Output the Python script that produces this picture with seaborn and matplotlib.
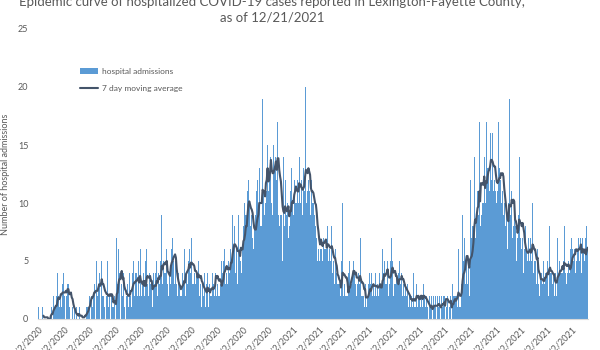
import numpy as np
import pandas as pd
import matplotlib
matplotlib.use("Agg")
import matplotlib.pyplot as plt
import seaborn as sns
from matplotlib.patches import Patch
from matplotlib.lines import Line2D

# ---------------- data ----------------
start_date = "2020-03-02"

admissions = [
    1, 0, 0, 0, 0, 1, 0, 0, 0, 0,
    0, 0, 0, 0, 0, 2, 1, 0, 2, 1,
    1, 1, 2, 4, 2, 1, 2, 3, 1, 3,
    4, 2, 1, 3, 2, 3, 3, 1, 2, 2,
    0, 1, 0, 1, 0, 0, 1, 0, 0, 1,
    0, 0, 0, 0, 0, 0, 2, 0, 1, 1,
    1, 2, 1, 5, 2, 1, 2, 3, 2, 2,
    5, 2, 3, 4, 2, 3, 5, 2, 2, 1,
    2, 1, 2, 5, 1, 2, 2, 1, 2, 1,
    1, 2, 1, 1, 7, 3, 6, 4, 2, 4,
    3, 2, 4, 1, 2, 1, 2, 3, 1, 4,
    2, 4, 1, 4, 5, 2, 4, 3, 4, 2,
    5, 2, 6, 1, 2, 3, 4, 2, 5, 3,
    6, 3, 2, 4, 3, 2, 3, 1, 4, 3,
    4, 3, 5, 2, 4, 3, 5, 4, 9, 3,
    5, 4, 4, 4, 6, 3, 2, 4, 3, 10,
    6, 7, 5, 3, 5, 1, 3, 2, 4, 3,
    2, 3, 2, 4, 3, 6, 2, 7, 4, 3,
    5, 6, 4, 5, 7, 3, 3, 4, 3, 4,
    4, 4, 5, 2, 3, 4, 1, 3, 2, 4,
    1, 2, 3, 4, 1, 3, 2, 3, 2, 4,
    3, 2, 4, 8, 2, 3, 2, 2, 3, 3,
    5, 4, 5, 6, 3, 5, 4, 3, 5, 4,
    6, 7, 5, 9, 6, 8, 4, 5, 6, 3,
    9, 6, 5, 9, 4, 6, 8, 10, 9, 10,
    9, 11, 12, 10, 8, 7, 9, 7, 6, 8,
    9, 8, 11, 12, 9, 13, 8, 9, 8, 19,
    11, 9, 10, 16, 11, 15, 11, 12, 14, 17,
    10, 9, 15, 13, 14, 17, 12, 17, 9, 8,
    9, 11, 9, 5, 14, 8, 12, 8, 9, 10,
    7, 8, 11, 12, 13, 10, 9, 12, 10, 14,
    10, 12, 10, 14, 10, 11, 12, 9, 13, 11,
    20, 14, 10, 11, 12, 11, 9, 12, 12, 10,
    10, 9, 8, 8, 7, 5, 6, 5, 6, 11,
    6, 5, 7, 6, 6, 7, 6, 8, 5, 6,
    5, 6, 8, 4, 5, 3, 6, 2, 4, 3,
    3, 3, 2, 2, 5, 10, 2, 3, 2, 1,
    2, 2, 4, 5, 3, 5, 3, 4, 5, 4,
    3, 4, 2, 3, 4, 3, 7, 1, 2, 2,
    2, 1, 3, 2, 1, 2, 3, 4, 3, 2,
    4, 2, 3, 2, 4, 3, 2, 3, 2, 4,
    3, 2, 3, 6, 4, 5, 3, 4, 3, 5,
    2, 3, 5, 4, 7, 5, 2, 3, 3, 2,
    4, 3, 4, 5, 3, 3, 4, 2, 3, 2,
    3, 2, 2, 3, 1, 2, 1, 1, 2, 1,
    4, 1, 1, 2, 3, 1, 2, 2, 1, 3,
    2, 1, 3, 2, 1, 1, 2, 1, 0, 2,
    1, 0, 2, 0, 2, 1, 2, 1, 0, 2,
    1, 2, 0, 1, 2, 1, 2, 2, 0, 4,
    1, 2, 0, 1, 2, 1, 0, 3, 2, 2,
    2, 1, 2, 1, 6, 1, 1, 2, 3, 9,
    5, 7, 3, 6, 5, 3, 5, 2, 12, 4,
    7, 8, 8, 14, 7, 10, 9, 11, 9, 17,
    8, 18, 9, 10, 10, 14, 10, 12, 17, 13,
    13, 11, 16, 14, 12, 16, 11, 12, 11, 11,
    10, 11, 17, 13, 12, 14, 10, 11, 9, 10,
    8, 7, 9, 6, 10, 19, 9, 8, 11, 7,
    8, 9, 8, 8, 5, 7, 9, 14, 7, 8,
    6, 7, 4, 6, 8, 4, 6, 5, 7, 5,
    7, 6, 5, 10, 4, 5, 5, 4, 3, 6,
    3, 2, 4, 2, 4, 3, 5, 3, 4, 4,
    4, 5, 2, 8, 4, 2, 4, 3, 4, 2,
    4, 3, 2, 7, 4, 5, 4, 4, 4, 4,
    5, 8, 4, 4, 3, 4, 5, 4, 6, 5,
    7, 6, 5, 6, 4, 9, 5, 6, 7, 5,
    7, 6, 4, 7, 6, 5, 7, 4, 8, 6,
]

month_labels = [
    "3/2/2020", "4/2/2020", "5/2/2020", "6/2/2020", "7/2/2020", "8/2/2020",
    "9/2/2020", "10/2/2020", "11/2/2020", "12/2/2020", "1/2/2021", "2/2/2021",
    "3/2/2021", "4/2/2021", "5/2/2021", "6/2/2021", "7/2/2021", "8/2/2021",
    "9/2/2021", "10/2/2021", "11/2/2021", "12/2/2021",
]
y_ticks = [0, 5, 10, 15, 20, 25]

title_line1 = "Epidemic curve of hospitalized COVID-19 cases reported in Lexington-Fayette County,"
title_line2 = "as of 12/21/2021"
y_label = "Number of hospital admissions"
legend_labels = ["hospital admissions", "7 day moving average"]

BAR_COLOR = "#5B9BD5"
LINE_COLOR = "#44546A"
TEXT_COLOR = "#595959"

# ---------------- build ----------------
sns.set_theme(style="white")
plt.rcParams["font.family"] = ["Lato", "DejaVu Sans"]

df = pd.DataFrame({"day": np.arange(len(admissions)), "admissions": admissions})
df["ma7"] = df["admissions"].rolling(7).mean()

tick_pos = (pd.to_datetime(month_labels, format="%m/%d/%Y") - pd.Timestamp(start_date)).days

fig = plt.figure(figsize=(6, 3.5), dpi=100)
ax = fig.add_axes([38 / 600, 1 - 319 / 350, 550 / 600, 290 / 350])

sns.barplot(data=df, x="day", y="admissions", native_scale=True, width=1.0,
            color=BAR_COLOR, saturation=1, errorbar=None, linewidth=0, ax=ax)
sns.lineplot(data=df, x="day", y="ma7", color=LINE_COLOR, linewidth=1.5, ax=ax)

ax.set_xlim(-0.5, len(admissions) - 0.5)
ax.set_ylim(0, 25)
ax.set_yticks(y_ticks)
ax.set_yticklabels([str(t) for t in y_ticks])
ax.set_xticks(tick_pos)
ax.set_xticklabels(month_labels, rotation=45, ha="right", rotation_mode="anchor")
ax.set_xlabel("")
ax.set_ylabel(y_label, fontsize=6.5, color=TEXT_COLOR)
ax.yaxis.set_label_coords((10 - 38) / 550, 0.5)
ax.tick_params(axis="both", length=0, labelsize=6.5, labelcolor=TEXT_COLOR)
ax.tick_params(axis="x", pad=4)
ax.tick_params(axis="y", pad=7)

for s in ["top", "right", "left"]:
    ax.spines[s].set_visible(False)
ax.spines["bottom"].set_color("#D9D9D9")
ax.spines["bottom"].set_linewidth(0.8)
ax.grid(False)

fig.text(272 / 600, 1 - 6 / 350, title_line1, ha="center", va="baseline",
         fontsize=9.5, color=TEXT_COLOR)
fig.text(272 / 600, 1 - 21 / 350, title_line2, ha="center", va="baseline",
         fontsize=9.5, color=TEXT_COLOR)

handles = [Patch(facecolor=BAR_COLOR, edgecolor="none"),
           Line2D([], [], color=LINE_COLOR, linewidth=1.5)]
fig.legend(handles=handles, labels=legend_labels, loc="upper left",
           bbox_to_anchor=(80 / 600, 1 - 68 / 350), frameon=False, fontsize=6,
           handlelength=2.2, handleheight=0.7, labelspacing=1.2, handletextpad=0.4,
           borderpad=0, borderaxespad=0, labelcolor=TEXT_COLOR)

fig.savefig("out.png", dpi=100)
